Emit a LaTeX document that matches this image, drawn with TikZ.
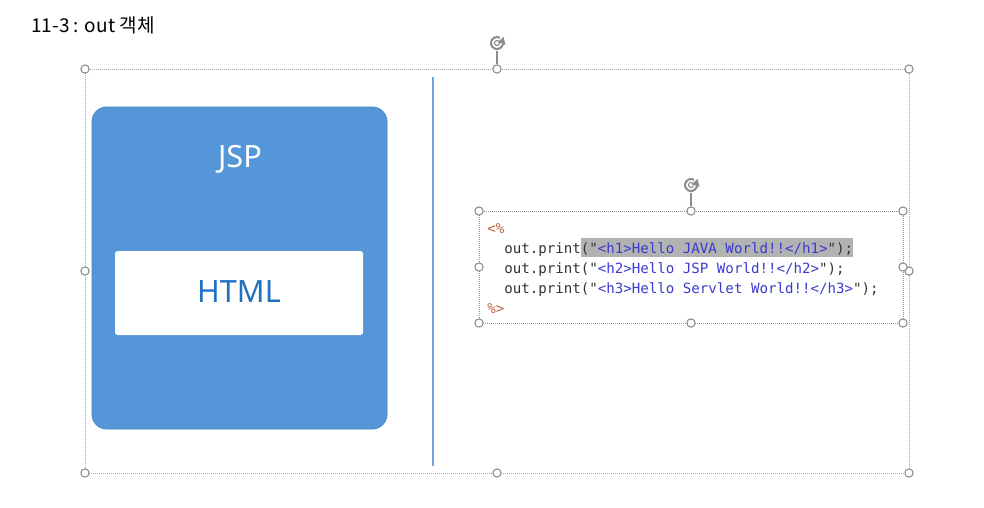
\documentclass[tikz,border=0pt]{standalone}
\usepackage{fontspec}
\setmainfont{Noto Sans}
\setmonofont{DejaVu Sans Mono}
\newfontfamily\krfont{Noto Sans CJK KR}
\usetikzlibrary{arrows.meta}
\definecolor{jspblue}{HTML}{5596D8}
\definecolor{jspedge}{HTML}{4A84C2}
\definecolor{htmltext}{HTML}{2270C2}
\definecolor{divline}{HTML}{72A6D8}
\definecolor{codeblack}{HTML}{333333}
\definecolor{codeblue}{HTML}{3A3AD0}
\definecolor{codeorange}{HTML}{C0623E}
\definecolor{hlgray}{HTML}{B2B2B2}
\definecolor{handlegray}{HTML}{8C8C8C}
\newcommand\codeblu[1]{\textcolor{codeblue}{#1}}
\begin{document}
\begin{tikzpicture}[x=0.75pt,y=-0.75pt,
  handle/.style={circle, draw=handlegray, fill=white, line width=0.8pt, inner sep=0pt, minimum size=6.2pt},
  selframe/.style={draw=gray!70, line width=0.5pt, dash pattern=on 0.75pt off 0.75pt},
  roticon/.style={draw=handlegray, line width=1.5pt},
  codeline/.style={anchor=base west, inner sep=0pt, text=codeblack, font=\ttfamily\fontsize{10.6}{13}\selectfont},
  bigtext/.style={font=\fontsize{23}{28}\selectfont, inner sep=0pt}
]
\useasboundingbox (0,0) rectangle (984,507);
% title
\node[anchor=base west, inner sep=0pt, font=\krfont\fontsize{14.3}{17}\selectfont] (title) at (31,32) {11-3 : out 객체};

% outer selection frame
\draw[selframe] (85,69) rectangle (909,473);
\node[handle] (o1) at (85,69) {};
\node[handle] (o2) at (497,69) {};
\node[handle] (o3) at (909,69) {};
\node[handle] (o4) at (85,271) {};
\node[handle] (o5) at (909,271) {};
\node[handle] (o6) at (85,473) {};
\node[handle] (o7) at (497,473) {};
\node[handle] (o8) at (909,473) {};
\coordinate (or) at (497,43);
\draw[handlegray, line width=0.8pt] (497,51) -- (o2);
\draw[roticon] (or) ++(8:6) arc (8:300:6);
\fill[handlegray] (503.5,37) -- (505.5,45) -- (498,42) -- cycle;
\draw[handlegray, line width=0.8pt] (or) circle (2.5);

% JSP box
\node[draw=jspedge, fill=jspblue, rounded corners=11pt, line width=0.6pt,
      minimum width=221.25pt, minimum height=241.5pt, inner sep=0pt] (jspbox) at (239.5,268) {};
\node[bigtext, text=white] (jsp) at (240,159) {JSP};
\node[fill=white, rounded corners=2pt, minimum width=186pt, minimum height=63pt, inner sep=0pt] (htmlbox) at (239,293) {};
\node[bigtext, text=htmltext] (html) at (239,292) {HTML};

% divider
\coordinate (d1) at (433,77);
\coordinate (d2) at (433,466);
\draw[divline, line width=0.8pt] (d1) -- (d2);

% code box selection
\draw[selframe, draw=gray!85] (479,211) rectangle (903,323);
\node[handle] (c1) at (479,211) {};
\node[handle] (c2) at (691,211) {};
\node[handle] (c3) at (903,211) {};
\node[handle] (c4) at (479,267) {};
\node[handle] (c5) at (903,267) {};
\node[handle] (c6) at (479,323) {};
\node[handle] (c7) at (691,323) {};
\node[handle] (c8) at (903,323) {};
\coordinate (cr) at (691,185);
\draw[handlegray, line width=0.8pt] (691,193) -- (c2);
\draw[roticon] (cr) ++(8:6) arc (8:300:6);
\fill[handlegray] (697.5,179) -- (699.5,187) -- (692,184) -- cycle;
\draw[handlegray, line width=0.8pt] (cr) circle (2.5);

% code
\node[codeline, text=codeorange] (open) at (487,233) {<\%};
\node[codeline] (l1) at (504,253) {out.print{\setlength\fboxsep{0pt}\colorbox{hlgray}{\rule[-3.2pt]{0pt}{14.4pt}("\codeblu{<h1>Hello JAVA World!!</h1>}");}}};
\node[codeline] (l2) at (504,273) {out.print("\codeblu{<h2>Hello JSP World!!</h2>}");};
\node[codeline] (l3) at (504,293) {out.print("\codeblu{<h3>Hello Servlet World!!</h3>}");};
\node[codeline, text=codeorange] (close) at (487,313) {\%>};
\end{tikzpicture}
\end{document}
